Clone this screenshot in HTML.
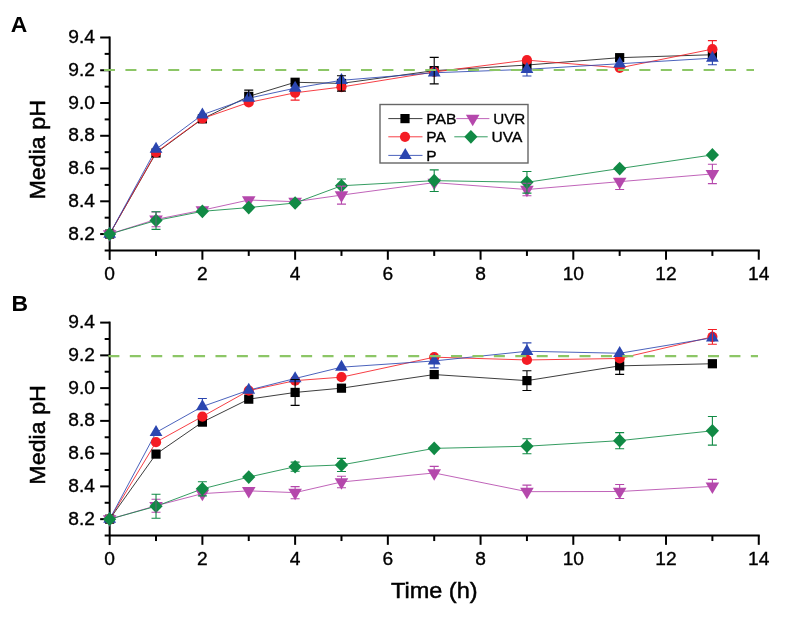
<!DOCTYPE html>
<html><head><meta charset="utf-8"><style>
html,body{margin:0;padding:0;background:#fff;}
svg{display:block;will-change:transform;}
text{font-family:"Liberation Sans",sans-serif;fill:#000;stroke:#000;stroke-width:0.35px;}
.tl{font-size:19.2px;}
.al{font-size:22.9px;stroke-width:0.5px;}
.lg{font-size:15.5px;}
.pl{font-size:22.9px;font-weight:bold;stroke:none;}
</style></head><body>
<svg width="788" height="621" viewBox="0 0 788 621">
<rect width="788" height="621" fill="#fff"/>
<text x="10.8" y="31.8" class="pl">A</text>
<text x="11.6" y="310.9" class="pl">B</text>
<line x1="109.66" y1="36.50" x2="109.66" y2="259.94" stroke="#000" stroke-width="2"/>
<line x1="104.66" y1="250.44" x2="759.76" y2="250.44" stroke="#000" stroke-width="2"/>
<line x1="100.16" y1="37.50" x2="109.66" y2="37.50" stroke="#000" stroke-width="2"/>
<text x="95.06" y="43.10" text-anchor="end" class="tl">9.4</text>
<line x1="104.66" y1="53.88" x2="109.66" y2="53.88" stroke="#000" stroke-width="2"/>
<line x1="100.16" y1="70.26" x2="109.66" y2="70.26" stroke="#000" stroke-width="2"/>
<text x="95.06" y="75.86" text-anchor="end" class="tl">9.2</text>
<line x1="104.66" y1="86.64" x2="109.66" y2="86.64" stroke="#000" stroke-width="2"/>
<line x1="100.16" y1="103.02" x2="109.66" y2="103.02" stroke="#000" stroke-width="2"/>
<text x="95.06" y="108.62" text-anchor="end" class="tl">9.0</text>
<line x1="104.66" y1="119.40" x2="109.66" y2="119.40" stroke="#000" stroke-width="2"/>
<line x1="100.16" y1="135.78" x2="109.66" y2="135.78" stroke="#000" stroke-width="2"/>
<text x="95.06" y="141.38" text-anchor="end" class="tl">8.8</text>
<line x1="104.66" y1="152.16" x2="109.66" y2="152.16" stroke="#000" stroke-width="2"/>
<line x1="100.16" y1="168.54" x2="109.66" y2="168.54" stroke="#000" stroke-width="2"/>
<text x="95.06" y="174.14" text-anchor="end" class="tl">8.6</text>
<line x1="104.66" y1="184.92" x2="109.66" y2="184.92" stroke="#000" stroke-width="2"/>
<line x1="100.16" y1="201.30" x2="109.66" y2="201.30" stroke="#000" stroke-width="2"/>
<text x="95.06" y="206.90" text-anchor="end" class="tl">8.4</text>
<line x1="104.66" y1="217.68" x2="109.66" y2="217.68" stroke="#000" stroke-width="2"/>
<line x1="100.16" y1="234.06" x2="109.66" y2="234.06" stroke="#000" stroke-width="2"/>
<text x="95.06" y="239.66" text-anchor="end" class="tl">8.2</text>
<text x="109.66" y="279.94" text-anchor="middle" class="tl">0</text>
<line x1="156.02" y1="250.44" x2="156.02" y2="255.94" stroke="#000" stroke-width="2"/>
<line x1="202.39" y1="250.44" x2="202.39" y2="259.74" stroke="#000" stroke-width="2"/>
<text x="202.39" y="279.94" text-anchor="middle" class="tl">2</text>
<line x1="248.75" y1="250.44" x2="248.75" y2="255.94" stroke="#000" stroke-width="2"/>
<line x1="295.12" y1="250.44" x2="295.12" y2="259.74" stroke="#000" stroke-width="2"/>
<text x="295.12" y="279.94" text-anchor="middle" class="tl">4</text>
<line x1="341.48" y1="250.44" x2="341.48" y2="255.94" stroke="#000" stroke-width="2"/>
<line x1="387.84" y1="250.44" x2="387.84" y2="259.74" stroke="#000" stroke-width="2"/>
<text x="387.84" y="279.94" text-anchor="middle" class="tl">6</text>
<line x1="434.21" y1="250.44" x2="434.21" y2="255.94" stroke="#000" stroke-width="2"/>
<line x1="480.57" y1="250.44" x2="480.57" y2="259.74" stroke="#000" stroke-width="2"/>
<text x="480.57" y="279.94" text-anchor="middle" class="tl">8</text>
<line x1="526.94" y1="250.44" x2="526.94" y2="255.94" stroke="#000" stroke-width="2"/>
<line x1="573.30" y1="250.44" x2="573.30" y2="259.74" stroke="#000" stroke-width="2"/>
<text x="573.30" y="279.94" text-anchor="middle" class="tl">10</text>
<line x1="619.66" y1="250.44" x2="619.66" y2="255.94" stroke="#000" stroke-width="2"/>
<line x1="666.03" y1="250.44" x2="666.03" y2="259.74" stroke="#000" stroke-width="2"/>
<text x="666.03" y="279.94" text-anchor="middle" class="tl">12</text>
<line x1="712.39" y1="250.44" x2="712.39" y2="255.94" stroke="#000" stroke-width="2"/>
<line x1="758.76" y1="250.44" x2="758.76" y2="259.74" stroke="#000" stroke-width="2"/>
<text x="758.76" y="279.94" text-anchor="middle" class="tl">14</text>
<polyline points="109.66,234.06 156.02,152.96 202.39,118.84 248.75,96.38 295.12,82.27 341.48,83.42 434.21,70.63 526.94,65.05 619.66,57.67 712.39,54.72" fill="none" stroke="#1a1a1a" stroke-width="0.85"/>
<polyline points="109.66,234.06 156.02,152.30 202.39,118.52 248.75,102.44 295.12,92.77 341.48,87.03 434.21,71.94 526.94,60.13 619.66,67.84 712.39,49.14" fill="none" stroke="#F41C24" stroke-width="0.85"/>
<polyline points="109.66,234.06 156.02,149.18 202.39,114.74 248.75,98.18 295.12,88.18 341.48,80.30 434.21,72.76 526.94,69.32 619.66,63.74 712.39,58.16" fill="none" stroke="#2B46B0" stroke-width="0.85"/>
<polyline points="109.66,234.06 156.02,219.38 202.39,210.19 248.75,200.02 295.12,201.66 341.48,195.10 434.21,182.64 526.94,189.53 619.66,181.66 712.39,173.95" fill="none" stroke="#B548AC" stroke-width="0.85"/>
<polyline points="109.66,234.06 156.02,220.52 202.39,211.34 248.75,207.57 295.12,202.98 341.48,185.76 434.21,180.67 526.94,182.31 619.66,168.54 712.39,154.92" fill="none" stroke="#118A45" stroke-width="0.85"/>
<rect x="105.06" y="229.46" width="9.20" height="9.20" fill="#000000"/>
<rect x="151.42" y="148.36" width="9.20" height="9.20" fill="#000000"/>
<rect x="197.79" y="114.24" width="9.20" height="9.20" fill="#000000"/>
<rect x="244.15" y="91.78" width="9.20" height="9.20" fill="#000000"/>
<rect x="290.52" y="77.67" width="9.20" height="9.20" fill="#000000"/>
<rect x="336.88" y="78.82" width="9.20" height="9.20" fill="#000000"/>
<rect x="429.61" y="66.03" width="9.20" height="9.20" fill="#000000"/>
<rect x="522.34" y="60.45" width="9.20" height="9.20" fill="#000000"/>
<rect x="615.06" y="53.07" width="9.20" height="9.20" fill="#000000"/>
<rect x="707.79" y="50.12" width="9.20" height="9.20" fill="#000000"/>
<circle cx="109.66" cy="234.06" r="5.1" fill="#F41C24"/>
<circle cx="156.02" cy="152.30" r="5.1" fill="#F41C24"/>
<circle cx="202.39" cy="118.52" r="5.1" fill="#F41C24"/>
<circle cx="248.75" cy="102.44" r="5.1" fill="#F41C24"/>
<circle cx="295.12" cy="92.77" r="5.1" fill="#F41C24"/>
<circle cx="341.48" cy="87.03" r="5.1" fill="#F41C24"/>
<circle cx="434.21" cy="71.94" r="5.1" fill="#F41C24"/>
<circle cx="526.94" cy="60.13" r="5.1" fill="#F41C24"/>
<circle cx="619.66" cy="67.84" r="5.1" fill="#F41C24"/>
<circle cx="712.39" cy="49.14" r="5.1" fill="#F41C24"/>
<polygon points="109.66,226.73 116.06,237.73 103.26,237.73" fill="#2B46B0"/>
<polygon points="156.02,141.85 162.42,152.85 149.62,152.85" fill="#2B46B0"/>
<polygon points="202.39,107.41 208.79,118.41 195.99,118.41" fill="#2B46B0"/>
<polygon points="248.75,90.85 255.15,101.85 242.35,101.85" fill="#2B46B0"/>
<polygon points="295.12,80.84 301.52,91.84 288.72,91.84" fill="#2B46B0"/>
<polygon points="341.48,72.97 347.88,83.97 335.08,83.97" fill="#2B46B0"/>
<polygon points="434.21,65.43 440.61,76.43 427.81,76.43" fill="#2B46B0"/>
<polygon points="526.94,61.98 533.34,72.98 520.54,72.98" fill="#2B46B0"/>
<polygon points="619.66,56.41 626.06,67.41 613.26,67.41" fill="#2B46B0"/>
<polygon points="712.39,50.83 718.79,61.83 705.99,61.83" fill="#2B46B0"/>
<polygon points="102.86,230.23 116.46,230.23 109.66,241.73" fill="#B548AC"/>
<polygon points="149.22,215.54 162.82,215.54 156.02,227.04" fill="#B548AC"/>
<polygon points="195.59,206.36 209.19,206.36 202.39,217.86" fill="#B548AC"/>
<polygon points="241.95,196.19 255.55,196.19 248.75,207.69" fill="#B548AC"/>
<polygon points="288.32,197.83 301.92,197.83 295.12,209.33" fill="#B548AC"/>
<polygon points="334.68,191.27 348.28,191.27 341.48,202.77" fill="#B548AC"/>
<polygon points="427.41,178.81 441.01,178.81 434.21,190.31" fill="#B548AC"/>
<polygon points="520.14,185.69 533.74,185.69 526.94,197.19" fill="#B548AC"/>
<polygon points="612.86,177.82 626.46,177.82 619.66,189.32" fill="#B548AC"/>
<polygon points="705.59,170.11 719.19,170.11 712.39,181.61" fill="#B548AC"/>
<polygon points="109.66,227.21 116.26,234.06 109.66,240.91 103.06,234.06" fill="#118A45"/>
<polygon points="156.02,213.67 162.62,220.52 156.02,227.37 149.42,220.52" fill="#118A45"/>
<polygon points="202.39,204.49 208.99,211.34 202.39,218.19 195.79,211.34" fill="#118A45"/>
<polygon points="248.75,200.72 255.35,207.57 248.75,214.42 242.15,207.57" fill="#118A45"/>
<polygon points="295.12,196.13 301.72,202.98 295.12,209.83 288.52,202.98" fill="#118A45"/>
<polygon points="341.48,178.91 348.08,185.76 341.48,192.61 334.88,185.76" fill="#118A45"/>
<polygon points="434.21,173.82 440.81,180.67 434.21,187.52 427.61,180.67" fill="#118A45"/>
<polygon points="526.94,175.46 533.54,182.31 526.94,189.16 520.34,182.31" fill="#118A45"/>
<polygon points="619.66,161.69 626.26,168.54 619.66,175.39 613.06,168.54" fill="#118A45"/>
<polygon points="712.39,148.07 718.99,154.92 712.39,161.77 705.79,154.92" fill="#118A45"/>
<path d="M248.75,96.38V90.15M244.25,90.15H253.25" stroke="#000000" stroke-width="1.1" fill="none"/>
<path d="M341.48,83.42V75.72M336.98,75.72H345.98M341.48,83.42V91.12M336.98,91.12H345.98" stroke="#000000" stroke-width="1.1" fill="none"/>
<path d="M434.21,70.63V57.36M429.71,57.36H438.71M434.21,70.63V83.90M429.71,83.90H438.71" stroke="#000000" stroke-width="1.1" fill="none"/>
<path d="M295.12,92.77V100.14M290.62,100.14H299.62" stroke="#F41C24" stroke-width="1.1" fill="none"/>
<path d="M712.39,49.14V40.63M707.89,40.63H716.89" stroke="#F41C24" stroke-width="1.1" fill="none"/>
<path d="M526.94,69.32V76.03M522.44,76.03H531.44" stroke="#2B46B0" stroke-width="1.1" fill="none"/>
<path d="M712.39,58.16V64.72M707.89,64.72H716.89" stroke="#2B46B0" stroke-width="1.1" fill="none"/>
<path d="M156.02,219.38V212.00M151.52,212.00H160.52M156.02,219.38V226.75M151.52,226.75H160.52" stroke="#B548AC" stroke-width="1.1" fill="none"/>
<path d="M341.48,195.10V186.10M336.98,186.10H345.98M341.48,195.10V204.11M336.98,204.11H345.98" stroke="#B548AC" stroke-width="1.1" fill="none"/>
<path d="M526.94,189.53V183.30M522.44,183.30H531.44M526.94,189.53V195.75M522.44,195.75H531.44" stroke="#B548AC" stroke-width="1.1" fill="none"/>
<path d="M619.66,181.66V189.52M615.16,189.52H624.16" stroke="#B548AC" stroke-width="1.1" fill="none"/>
<path d="M712.39,173.95V164.28M707.89,164.28H716.89M712.39,173.95V183.61M707.89,183.61H716.89" stroke="#B548AC" stroke-width="1.1" fill="none"/>
<path d="M156.02,220.52V211.68M151.52,211.68H160.52M156.02,220.52V229.37M151.52,229.37H160.52" stroke="#118A45" stroke-width="1.1" fill="none"/>
<path d="M341.48,185.76V179.04M336.98,179.04H345.98" stroke="#118A45" stroke-width="1.1" fill="none"/>
<path d="M434.21,180.67V169.86M429.71,169.86H438.71M434.21,180.67V191.48M429.71,191.48H438.71" stroke="#118A45" stroke-width="1.1" fill="none"/>
<path d="M526.94,182.31V171.50M522.44,171.50H531.44M526.94,182.31V193.12M522.44,193.12H531.44" stroke="#118A45" stroke-width="1.1" fill="none"/>
<line x1="104" y1="70.00" x2="754" y2="70.00" stroke="#8CC666" stroke-width="2.2" stroke-dasharray="11 10.415"/>
<text transform="translate(45,149.80) rotate(-90)" text-anchor="middle" class="al" textLength="99.5" lengthAdjust="spacingAndGlyphs">Media pH</text>
<line x1="109.66" y1="321.60" x2="109.66" y2="545.04" stroke="#000" stroke-width="2"/>
<line x1="104.66" y1="535.54" x2="759.76" y2="535.54" stroke="#000" stroke-width="2"/>
<line x1="100.16" y1="322.60" x2="109.66" y2="322.60" stroke="#000" stroke-width="2"/>
<text x="95.06" y="328.20" text-anchor="end" class="tl">9.4</text>
<line x1="104.66" y1="338.98" x2="109.66" y2="338.98" stroke="#000" stroke-width="2"/>
<line x1="100.16" y1="355.36" x2="109.66" y2="355.36" stroke="#000" stroke-width="2"/>
<text x="95.06" y="360.96" text-anchor="end" class="tl">9.2</text>
<line x1="104.66" y1="371.74" x2="109.66" y2="371.74" stroke="#000" stroke-width="2"/>
<line x1="100.16" y1="388.12" x2="109.66" y2="388.12" stroke="#000" stroke-width="2"/>
<text x="95.06" y="393.72" text-anchor="end" class="tl">9.0</text>
<line x1="104.66" y1="404.50" x2="109.66" y2="404.50" stroke="#000" stroke-width="2"/>
<line x1="100.16" y1="420.88" x2="109.66" y2="420.88" stroke="#000" stroke-width="2"/>
<text x="95.06" y="426.48" text-anchor="end" class="tl">8.8</text>
<line x1="104.66" y1="437.26" x2="109.66" y2="437.26" stroke="#000" stroke-width="2"/>
<line x1="100.16" y1="453.64" x2="109.66" y2="453.64" stroke="#000" stroke-width="2"/>
<text x="95.06" y="459.24" text-anchor="end" class="tl">8.6</text>
<line x1="104.66" y1="470.02" x2="109.66" y2="470.02" stroke="#000" stroke-width="2"/>
<line x1="100.16" y1="486.40" x2="109.66" y2="486.40" stroke="#000" stroke-width="2"/>
<text x="95.06" y="492.00" text-anchor="end" class="tl">8.4</text>
<line x1="104.66" y1="502.78" x2="109.66" y2="502.78" stroke="#000" stroke-width="2"/>
<line x1="100.16" y1="519.16" x2="109.66" y2="519.16" stroke="#000" stroke-width="2"/>
<text x="95.06" y="524.76" text-anchor="end" class="tl">8.2</text>
<text x="109.66" y="565.04" text-anchor="middle" class="tl">0</text>
<line x1="156.02" y1="535.54" x2="156.02" y2="541.04" stroke="#000" stroke-width="2"/>
<line x1="202.39" y1="535.54" x2="202.39" y2="544.84" stroke="#000" stroke-width="2"/>
<text x="202.39" y="565.04" text-anchor="middle" class="tl">2</text>
<line x1="248.75" y1="535.54" x2="248.75" y2="541.04" stroke="#000" stroke-width="2"/>
<line x1="295.12" y1="535.54" x2="295.12" y2="544.84" stroke="#000" stroke-width="2"/>
<text x="295.12" y="565.04" text-anchor="middle" class="tl">4</text>
<line x1="341.48" y1="535.54" x2="341.48" y2="541.04" stroke="#000" stroke-width="2"/>
<line x1="387.84" y1="535.54" x2="387.84" y2="544.84" stroke="#000" stroke-width="2"/>
<text x="387.84" y="565.04" text-anchor="middle" class="tl">6</text>
<line x1="434.21" y1="535.54" x2="434.21" y2="541.04" stroke="#000" stroke-width="2"/>
<line x1="480.57" y1="535.54" x2="480.57" y2="544.84" stroke="#000" stroke-width="2"/>
<text x="480.57" y="565.04" text-anchor="middle" class="tl">8</text>
<line x1="526.94" y1="535.54" x2="526.94" y2="541.04" stroke="#000" stroke-width="2"/>
<line x1="573.30" y1="535.54" x2="573.30" y2="544.84" stroke="#000" stroke-width="2"/>
<text x="573.30" y="565.04" text-anchor="middle" class="tl">10</text>
<line x1="619.66" y1="535.54" x2="619.66" y2="541.04" stroke="#000" stroke-width="2"/>
<line x1="666.03" y1="535.54" x2="666.03" y2="544.84" stroke="#000" stroke-width="2"/>
<text x="666.03" y="565.04" text-anchor="middle" class="tl">12</text>
<line x1="712.39" y1="535.54" x2="712.39" y2="541.04" stroke="#000" stroke-width="2"/>
<line x1="758.76" y1="535.54" x2="758.76" y2="544.84" stroke="#000" stroke-width="2"/>
<text x="758.76" y="565.04" text-anchor="middle" class="tl">14</text>
<polyline points="109.66,519.16 156.02,454.10 202.39,422.12 248.75,399.16 295.12,392.44 341.48,388.17 434.21,374.56 526.94,380.63 619.66,365.87 712.39,363.74" fill="none" stroke="#1a1a1a" stroke-width="0.85"/>
<polyline points="109.66,519.16 156.02,442.13 202.39,416.54 248.75,390.63 295.12,380.63 341.48,377.18 434.21,357.18 526.94,359.96 619.66,358.49 712.39,336.84" fill="none" stroke="#F41C24" stroke-width="0.85"/>
<polyline points="109.66,519.16 156.02,432.45 202.39,406.54 248.75,390.14 295.12,378.50 341.48,367.18 434.21,360.95 526.94,351.27 619.66,353.24 712.39,337.82" fill="none" stroke="#2B46B0" stroke-width="0.85"/>
<polyline points="109.66,519.16 156.02,505.76 202.39,493.62 248.75,490.84 295.12,492.64 341.48,481.98 434.21,472.96 526.94,491.66 619.66,491.49 712.39,486.41" fill="none" stroke="#B548AC" stroke-width="0.85"/>
<polyline points="109.66,519.16 156.02,506.25 202.39,488.87 248.75,477.06 295.12,466.73 341.48,464.92 434.21,448.36 526.94,446.23 619.66,440.65 712.39,430.81" fill="none" stroke="#118A45" stroke-width="0.85"/>
<rect x="105.06" y="514.56" width="9.20" height="9.20" fill="#000000"/>
<rect x="151.42" y="449.50" width="9.20" height="9.20" fill="#000000"/>
<rect x="197.79" y="417.52" width="9.20" height="9.20" fill="#000000"/>
<rect x="244.15" y="394.56" width="9.20" height="9.20" fill="#000000"/>
<rect x="290.52" y="387.84" width="9.20" height="9.20" fill="#000000"/>
<rect x="336.88" y="383.57" width="9.20" height="9.20" fill="#000000"/>
<rect x="429.61" y="369.96" width="9.20" height="9.20" fill="#000000"/>
<rect x="522.34" y="376.03" width="9.20" height="9.20" fill="#000000"/>
<rect x="615.06" y="361.27" width="9.20" height="9.20" fill="#000000"/>
<rect x="707.79" y="359.14" width="9.20" height="9.20" fill="#000000"/>
<circle cx="109.66" cy="519.16" r="5.1" fill="#F41C24"/>
<circle cx="156.02" cy="442.13" r="5.1" fill="#F41C24"/>
<circle cx="202.39" cy="416.54" r="5.1" fill="#F41C24"/>
<circle cx="248.75" cy="390.63" r="5.1" fill="#F41C24"/>
<circle cx="295.12" cy="380.63" r="5.1" fill="#F41C24"/>
<circle cx="341.48" cy="377.18" r="5.1" fill="#F41C24"/>
<circle cx="434.21" cy="357.18" r="5.1" fill="#F41C24"/>
<circle cx="526.94" cy="359.96" r="5.1" fill="#F41C24"/>
<circle cx="619.66" cy="358.49" r="5.1" fill="#F41C24"/>
<circle cx="712.39" cy="336.84" r="5.1" fill="#F41C24"/>
<polygon points="109.66,511.83 116.06,522.83 103.26,522.83" fill="#2B46B0"/>
<polygon points="156.02,425.12 162.42,436.12 149.62,436.12" fill="#2B46B0"/>
<polygon points="202.39,399.21 208.79,410.21 195.99,410.21" fill="#2B46B0"/>
<polygon points="248.75,382.81 255.15,393.81 242.35,393.81" fill="#2B46B0"/>
<polygon points="295.12,371.16 301.52,382.16 288.72,382.16" fill="#2B46B0"/>
<polygon points="341.48,359.85 347.88,370.85 335.08,370.85" fill="#2B46B0"/>
<polygon points="434.21,353.61 440.61,364.61 427.81,364.61" fill="#2B46B0"/>
<polygon points="526.94,343.94 533.34,354.94 520.54,354.94" fill="#2B46B0"/>
<polygon points="619.66,345.91 626.06,356.91 613.26,356.91" fill="#2B46B0"/>
<polygon points="712.39,330.49 718.79,341.49 705.99,341.49" fill="#2B46B0"/>
<polygon points="102.86,515.33 116.46,515.33 109.66,526.83" fill="#B548AC"/>
<polygon points="149.22,501.93 162.82,501.93 156.02,513.43" fill="#B548AC"/>
<polygon points="195.59,489.79 209.19,489.79 202.39,501.29" fill="#B548AC"/>
<polygon points="241.95,487.00 255.55,487.00 248.75,498.50" fill="#B548AC"/>
<polygon points="288.32,488.81 301.92,488.81 295.12,500.31" fill="#B548AC"/>
<polygon points="334.68,478.15 348.28,478.15 341.48,489.65" fill="#B548AC"/>
<polygon points="427.41,469.13 441.01,469.13 434.21,480.63" fill="#B548AC"/>
<polygon points="520.14,487.82 533.74,487.82 526.94,499.32" fill="#B548AC"/>
<polygon points="612.86,487.66 626.46,487.66 619.66,499.16" fill="#B548AC"/>
<polygon points="705.59,482.57 719.19,482.57 712.39,494.07" fill="#B548AC"/>
<polygon points="109.66,512.31 116.26,519.16 109.66,526.01 103.06,519.16" fill="#118A45"/>
<polygon points="156.02,499.40 162.62,506.25 156.02,513.10 149.42,506.25" fill="#118A45"/>
<polygon points="202.39,482.02 208.99,488.87 202.39,495.72 195.79,488.87" fill="#118A45"/>
<polygon points="248.75,470.21 255.35,477.06 248.75,483.91 242.15,477.06" fill="#118A45"/>
<polygon points="295.12,459.88 301.72,466.73 295.12,473.58 288.52,466.73" fill="#118A45"/>
<polygon points="341.48,458.07 348.08,464.92 341.48,471.77 334.88,464.92" fill="#118A45"/>
<polygon points="434.21,441.51 440.81,448.36 434.21,455.21 427.61,448.36" fill="#118A45"/>
<polygon points="526.94,439.38 533.54,446.23 526.94,453.08 520.34,446.23" fill="#118A45"/>
<polygon points="619.66,433.80 626.26,440.65 619.66,447.50 613.06,440.65" fill="#118A45"/>
<polygon points="712.39,423.96 718.99,430.81 712.39,437.66 705.79,430.81" fill="#118A45"/>
<path d="M295.12,392.44V379.50M290.62,379.50H299.62M295.12,392.44V405.38M290.62,405.38H299.62" stroke="#000000" stroke-width="1.1" fill="none"/>
<path d="M526.94,380.63V370.80M522.44,370.80H531.44M526.94,380.63V390.46M522.44,390.46H531.44" stroke="#000000" stroke-width="1.1" fill="none"/>
<path d="M619.66,365.87V374.39M615.16,374.39H624.16" stroke="#000000" stroke-width="1.1" fill="none"/>
<path d="M712.39,336.84V329.47M707.89,329.47H716.89M712.39,336.84V344.21M707.89,344.21H716.89" stroke="#F41C24" stroke-width="1.1" fill="none"/>
<path d="M202.39,406.54V398.51M197.89,398.51H206.89" stroke="#2B46B0" stroke-width="1.1" fill="none"/>
<path d="M434.21,360.95V367.83M429.71,367.83H438.71" stroke="#2B46B0" stroke-width="1.1" fill="none"/>
<path d="M526.94,351.27V342.92M522.44,342.92H531.44" stroke="#2B46B0" stroke-width="1.1" fill="none"/>
<path d="M156.02,505.76V499.21M151.52,499.21H160.52M156.02,505.76V512.31M151.52,512.31H160.52" stroke="#B548AC" stroke-width="1.1" fill="none"/>
<path d="M295.12,492.64V486.58M290.62,486.58H299.62M295.12,492.64V498.70M290.62,498.70H299.62" stroke="#B548AC" stroke-width="1.1" fill="none"/>
<path d="M341.48,481.98V476.25M336.98,476.25H345.98M341.48,481.98V487.71M336.98,487.71H345.98" stroke="#B548AC" stroke-width="1.1" fill="none"/>
<path d="M434.21,472.96V466.41M429.71,466.41H438.71" stroke="#B548AC" stroke-width="1.1" fill="none"/>
<path d="M526.94,491.66V485.10M522.44,485.10H531.44" stroke="#B548AC" stroke-width="1.1" fill="none"/>
<path d="M619.66,491.49V484.45M615.16,484.45H624.16M619.66,491.49V498.54M615.16,498.54H624.16" stroke="#B548AC" stroke-width="1.1" fill="none"/>
<path d="M712.39,486.41V479.36M707.89,479.36H716.89" stroke="#B548AC" stroke-width="1.1" fill="none"/>
<path d="M156.02,506.25V494.29M151.52,494.29H160.52M156.02,506.25V518.21M151.52,518.21H160.52" stroke="#118A45" stroke-width="1.1" fill="none"/>
<path d="M202.39,488.87V481.82M197.89,481.82H206.89M202.39,488.87V495.91M197.89,495.91H206.89" stroke="#118A45" stroke-width="1.1" fill="none"/>
<path d="M295.12,466.73V462.14M290.62,462.14H299.62M295.12,466.73V471.31M290.62,471.31H299.62" stroke="#118A45" stroke-width="1.1" fill="none"/>
<path d="M341.48,464.92V458.37M336.98,458.37H345.98M341.48,464.92V471.48M336.98,471.48H345.98" stroke="#118A45" stroke-width="1.1" fill="none"/>
<path d="M526.94,446.23V438.69M522.44,438.69H531.44M526.94,446.23V453.76M522.44,453.76H531.44" stroke="#118A45" stroke-width="1.1" fill="none"/>
<path d="M619.66,440.65V432.63M615.16,432.63H624.16M619.66,440.65V448.68M615.16,448.68H624.16" stroke="#118A45" stroke-width="1.1" fill="none"/>
<path d="M712.39,430.81V416.48M707.89,416.48H716.89M712.39,430.81V445.14M707.89,445.14H716.89" stroke="#118A45" stroke-width="1.1" fill="none"/>
<line x1="108.4" y1="356.10" x2="758" y2="356.10" stroke="#8CC666" stroke-width="2.2" stroke-dasharray="11 10.415"/>
<text transform="translate(45,434.90) rotate(-90)" text-anchor="middle" class="al" textLength="99.5" lengthAdjust="spacingAndGlyphs">Media pH</text>
<rect x="380" y="104.5" width="148" height="58.5" fill="#fff" stroke="#666" stroke-width="1.4"/>
<line x1="388.3" y1="118.6" x2="422.5" y2="118.6" stroke="#1a1a1a" stroke-width="0.85"/>
<rect x="400.40" y="114.00" width="9.20" height="9.20" fill="#000000"/>
<text x="426.2" y="123.80" class="lg" textLength="30.4" lengthAdjust="spacingAndGlyphs">PAB</text>
<line x1="388.3" y1="136.8" x2="422.5" y2="136.8" stroke="#F41C24" stroke-width="0.85"/>
<circle cx="405.00" cy="136.80" r="5.1" fill="#F41C24"/>
<text x="426.2" y="142.00" class="lg">PA</text>
<line x1="388.3" y1="155.4" x2="422.5" y2="155.4" stroke="#2B46B0" stroke-width="0.85"/>
<polygon points="405.30,148.07 411.70,159.07 398.90,159.07" fill="#2B46B0"/>
<text x="426.2" y="160.60" class="lg">P</text>
<line x1="456.3" y1="118.6" x2="489.4" y2="118.6" stroke="#B548AC" stroke-width="0.85"/>
<polygon points="465.90,114.77 479.50,114.77 472.70,126.27" fill="#B548AC"/>
<text x="493.2" y="123.80" class="lg" textLength="32.1" lengthAdjust="spacingAndGlyphs">UVR</text>
<line x1="454.3" y1="136.8" x2="487.7" y2="136.8" stroke="#118A45" stroke-width="0.85"/>
<polygon points="470.90,129.95 477.50,136.80 470.90,143.65 464.30,136.80" fill="#118A45"/>
<text x="491.6" y="142.00" class="lg">UVA</text>
<text x="434.3" y="598.2" text-anchor="middle" class="al" textLength="86.6" lengthAdjust="spacingAndGlyphs">Time (h)</text>
</svg>
</body></html>
